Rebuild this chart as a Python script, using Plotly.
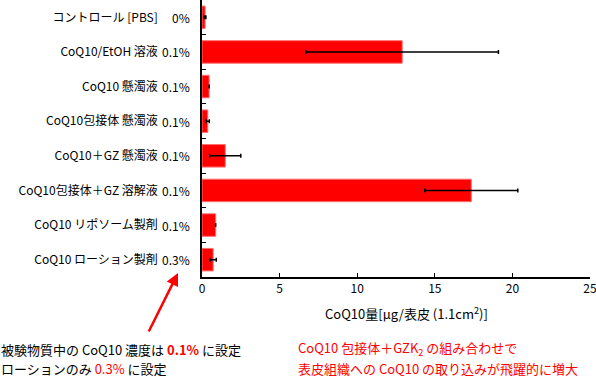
import plotly.graph_objects as go

categories = [
    "コントロール [PBS]",
    "CoQ10/EtOH 溶液",
    "CoQ10 懸濁液",
    "CoQ10包接体 懸濁液",
    "CoQ10＋GZ 懸濁液",
    "CoQ10包接体＋GZ 溶解液",
    "CoQ10 リポソーム製剤",
    "CoQ10 ローション製剤",
]
concentrations = ["0%", "0.1%", "0.1%", "0.1%", "0.1%", "0.1%", "0.1%", "0.3%"]
values = [0.2, 12.9, 0.46, 0.37, 1.5, 17.35, 0.88, 0.72]
errors = [0.05, 6.2, 0.0, 0.1, 1.0, 3.0, 0.0, 0.2]
x_ticks = [0, 5, 10, 15, 20, 25]

FONT = "Noto Sans CJK JP"
W, H = 596, 377
L, R, T, B = 202, 6, 0, 100
pw, ph = W - L - R, H - T - B

def px_x(x):
    return (x - L) / pw

def px_y(y):
    return (T + ph - y) / ph

fig = go.Figure()
fig.add_trace(go.Bar(
    x=values, y=categories, orientation="h",
    marker=dict(color="#FF0000", line=dict(color="#FF7070", width=1)),
    width=0.65,
    error_x=dict(type="data", array=errors, visible=True, color="black",
                 thickness=1.5, width=2),
    showlegend=False, hoverinfo="skip",
))

annotations = []
for cat, conc in zip(categories, concentrations):
    annotations.append(dict(
        x=0, y=cat, xref="paper", yref="y", text=conc, showarrow=False,
        xanchor="right", xshift=-10, font=dict(size=12, color="black", family=FONT)))

annotations.append(dict(
    x=px_x(406), y=px_y(313), xref="paper", yref="paper",
    text="CoQ10量[μg/表皮 (1.1cm<sup>2</sup>)]", showarrow=False,
    xanchor="center", yanchor="middle", font=dict(size=13, color="black", family=FONT)))

annotations.append(dict(
    x=px_x(0), y=px_y(349), xref="paper", yref="paper",
    text="被験物質中の CoQ10 濃度は <b><span style='color:#FF0000'>0.1%</span></b> に設定",
    showarrow=False, xanchor="left", yanchor="middle", borderpad=0,
    font=dict(size=13, color="black", family=FONT)))
annotations.append(dict(
    x=px_x(0), y=px_y(368), xref="paper", yref="paper",
    text="ローションのみ <span style='color:#FF0000'>0.3%</span> に設定",
    showarrow=False, xanchor="left", yanchor="middle", borderpad=0,
    font=dict(size=13, color="black", family=FONT)))
annotations.append(dict(
    x=px_x(297), y=px_y(348), xref="paper", yref="paper",
    text="CoQ10 包接体＋GZK<sub>2</sub> の組み合わせで",
    showarrow=False, xanchor="left", yanchor="middle", borderpad=0,
    font=dict(size=13, color="#FF0000", family=FONT)))
annotations.append(dict(
    x=px_x(297), y=px_y(368), xref="paper", yref="paper",
    text="表皮組織への CoQ10 の取り込みが飛躍的に増大",
    showarrow=False, xanchor="left", yanchor="middle", borderpad=0,
    font=dict(size=13, color="#FF0000", family=FONT)))
annotations.append(dict(
    x=px_x(178), y=px_y(273), xref="paper", yref="paper", text="",
    showarrow=True, arrowhead=2, arrowsize=1, arrowwidth=2.5, arrowcolor="#FF0000",
    ax=-30, ay=60))

fig.update_layout(
    width=W, height=H,
    margin=dict(l=L, r=R, t=T, b=B, pad=0, autoexpand=False),
    plot_bgcolor="white", paper_bgcolor="white",
    font=dict(family=FONT, size=12, color="black"),
    bargap=0.35,
    xaxis=dict(range=[0, 25], tickvals=x_ticks, ticks="inside", ticklen=4,
               tickcolor="black", showline=True, linecolor="black", linewidth=1.5,
               showgrid=False, zeroline=False, automargin=False,
               ticklabeloverflow="allow",
               tickfont=dict(size=12, family=FONT)),
    yaxis=dict(categoryorder="array", categoryarray=categories, autorange="reversed",
               ticks="inside", ticklen=4, tickcolor="black", tickson="boundaries",
               showline=True, linecolor="black", linewidth=1.5, showgrid=False,
               automargin=False, ticklabelstandoff=40,
               tickfont=dict(size=12, family=FONT)),
    annotations=annotations,
)

fig.write_html(
    "out.html",
    config={"displayModeBar": False},
    post_script="document.body.style.margin='0px';document.body.style.overflow='hidden';",
)
